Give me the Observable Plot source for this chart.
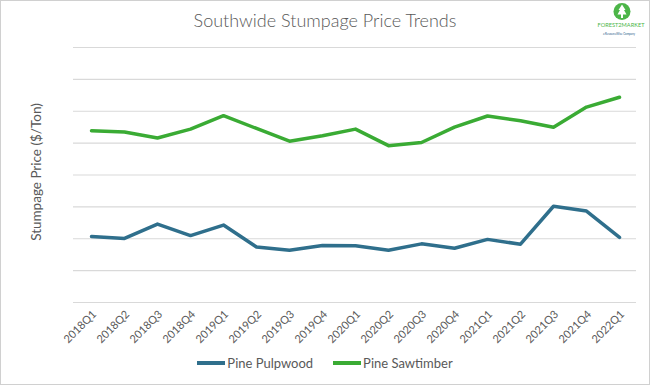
<!DOCTYPE html>
<html>
<head>
<meta charset="utf-8">
<script src="https://cdn.jsdelivr.net/npm/d3@7"></script>
<script src="https://cdn.jsdelivr.net/npm/@observablehq/plot@0.6"></script>
<style>
  html, body { margin: 0; padding: 0; background: #fff; }
  #wrap { position: relative; width: 650px; height: 385px; overflow: hidden; font-family: Lato, "Open Sans", sans-serif; }
  #frame { position: absolute; left: 0; top: 0; width: 648px; height: 383px; border: 1px solid #d0d0d0; pointer-events: none; }
  #title { position: absolute; left: 0; width: 650px; top: 9px; text-align: center; font-size: 18px; font-weight: 300; color: #595959; }
  #ylab { position: absolute; left: 36px; top: 172px; transform: translate(-50%, -50%) rotate(-90deg); white-space: nowrap; font-size: 13.5px; color: #595959; }
  #chart { position: absolute; left: 0; top: 0; }
  #legend { position: absolute; top: 355px; left: 0; width: 650px; display: flex; justify-content: center; gap: 20px; font-size: 13px; color: #595959; }
  .item { display: flex; align-items: center; }
  .sw { width: 28px; height: 4px; margin-right: 2px; }
  #logo { position: absolute; left: 596px; top: 0px; width: 52px; }
</style>
</head>
<body>
<div id="wrap">
  <div id="chart"></div>
  <div id="title">Southwide Stumpage Price Trends</div>
  <div id="ylab">Stumpage Price ($/Ton)</div>
  <div id="legend"></div>
  <div id="logo">
    <svg width="52" height="40" viewBox="0 0 52 40">
      <circle cx="26" cy="11.5" r="8.5" fill="#4cb548"/>
      <path d="M26 4.5 L29.5 10 L28 10 L30.5 14.5 L27 14.5 L27 18 L25 18 L25 14.5 L21.5 14.5 L24 10 L22.5 10 Z" fill="#fff"/>
      <text x="25" y="27" text-anchor="middle" font-size="6" fill="#4cb548" font-family="Lato, sans-serif" textLength="47" lengthAdjust="spacingAndGlyphs">FOREST2MARKET</text>
      <text x="23" y="34.5" text-anchor="middle" font-size="3.2" fill="#2a5d8a" font-family="Lato, sans-serif" textLength="32" lengthAdjust="spacingAndGlyphs">a ResourceWise Company</text>
    </svg>
  </div>
  <div id="frame"></div>
</div>
<script>
const quarters = ["2018Q1","2018Q2","2018Q3","2018Q4","2019Q1","2019Q2","2019Q3","2019Q4","2020Q1","2020Q2","2020Q3","2020Q4","2021Q1","2021Q2","2021Q3","2021Q4","2022Q1"];
const pulpwood = [2.07,2.01,2.46,2.10,2.43,1.74,1.64,1.79,1.78,1.64,1.84,1.70,1.98,1.83,3.02,2.87,2.04];
const sawtimber = [5.39,5.35,5.16,5.44,5.86,5.46,5.06,5.23,5.44,4.92,5.02,5.50,5.85,5.70,5.50,6.13,6.44];
const seriesNames = ["Pine Pulpwood","Pine Sawtimber"];
const seriesColors = ["#2f6f8c","#3aab34"];
const gridTicks = [0,1,2,3,4,5,6,7,8];

const data = [];
quarters.forEach((q,i) => {
  data.push({q, v: pulpwood[i], s: seriesNames[0]});
  data.push({q, v: sawtimber[i], s: seriesNames[1]});
});

const chart = Plot.plot({
  width: 650,
  height: 385,
  marginLeft: 73,
  marginRight: 14,
  marginTop: 47,
  marginBottom: 83,
  style: {fontFamily: "Lato, 'Open Sans', sans-serif", background: "transparent"},
  x: {type: "point", domain: quarters, padding: 0.5, axis: null},
  y: {domain: [0, 8], axis: null},
  color: {domain: seriesNames, range: seriesColors},
  marks: [
    Plot.ruleY(gridTicks, {stroke: "#d9d9d9", strokeWidth: 1.2}),
    Plot.axisX({tickRotate: -45, tickSize: 0, tickPadding: 10, dx: 3, fontSize: 11, color: "#595959", label: null}),
    Plot.line(data, {x: "q", y: "v", z: "s", stroke: "s", strokeWidth: 3.5, strokeLinejoin: "round", strokeLinecap: "round"})
  ]
});
document.getElementById("chart").appendChild(chart);

const legend = document.getElementById("legend");
seriesNames.forEach((n,i) => {
  const it = document.createElement("div");
  it.className = "item";
  const sw = document.createElement("span");
  sw.className = "sw";
  sw.style.background = seriesColors[i];
  const t = document.createElement("span");
  t.textContent = n;
  it.appendChild(sw); it.appendChild(t);
  legend.appendChild(it);
});
</script>
</body>
</html>
